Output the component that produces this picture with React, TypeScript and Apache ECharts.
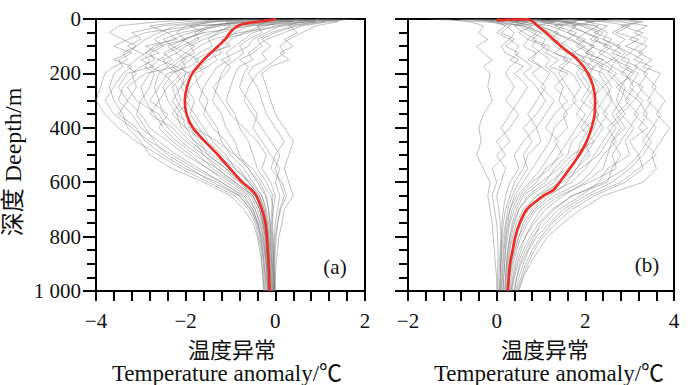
import React, { useEffect, useRef } from "react";
import * as echarts from "echarts";

// Depth levels (m) for the grey profiles
const depths = [0, 10, 25, 50, 75, 100, 125, 150, 175, 200, 250, 300, 350, 400, 450, 500, 550, 600, 650, 700, 750, 800, 850, 900, 950, 1000];

// Panel (a): individual temperature anomaly profiles (°C)
const leftProfiles = [
  [-0.5, -1.5, -2.2, -2.6, -2.9, -3.1, -3.4, -3.3, -3.6, -3.8, -3.9, -4.0, -3.8, -3.5, -3.1, -2.6, -2.1, -1.5, -0.9, -0.6, -0.45, -0.38, -0.32, -0.3, -0.27, -0.25],
  [0.5, -0.4, -1.8, -2.9, -3.3, -3.6, -3.2, -3.5, -3.4, -3.6, -3.7, -3.6, -3.4, -3.3, -3.0, -2.8, -2.3, -1.6, -1.0, -0.7, -0.5, -0.4, -0.35, -0.3, -0.28, -0.26],
  [1.2, 0.2, -1.2, -1.9, -2.3, -2.7, -2.9, -3.1, -3.3, -3.1, -3.4, -3.5, -3.2, -3.0, -2.6, -2.2, -1.7, -1.2, -0.75, -0.5, -0.4, -0.3, -0.25, -0.22, -0.2, -0.18],
  [-1.0, -2.0, -2.8, -2.4, -2.7, -2.5, -2.8, -2.7, -3.0, -3.2, -3.1, -3.3, -3.0, -2.8, -2.4, -2.0, -1.5, -1.0, -0.6, -0.45, -0.35, -0.28, -0.24, -0.2, -0.18, -0.16],
  [1.5, 0.8, -0.5, -1.6, -2.0, -2.2, -2.5, -2.3, -2.6, -2.8, -3.0, -2.9, -2.7, -2.5, -2.2, -1.8, -1.3, -0.9, -0.5, -0.35, -0.28, -0.22, -0.2, -0.18, -0.15, -0.14],
  [0.0, -0.8, -1.5, -1.8, -1.7, -2.0, -2.2, -2.5, -2.4, -2.6, -2.7, -2.6, -2.8, -2.3, -2.0, -1.6, -1.2, -0.8, -0.45, -0.3, -0.25, -0.2, -0.18, -0.15, -0.14, -0.12],
  [1.8, 1.0, 0.2, -0.8, -1.4, -1.7, -1.9, -2.1, -2.0, -2.3, -2.5, -2.4, -2.2, -2.1, -1.8, -1.4, -1.0, -0.7, -0.4, -0.28, -0.2, -0.17, -0.15, -0.13, -0.12, -0.1],
  [-0.3, -1.1, -1.0, -1.3, -1.5, -1.4, -1.7, -1.9, -2.1, -2.0, -2.3, -2.2, -2.0, -1.9, -1.7, -1.5, -1.1, -0.8, -0.5, -0.35, -0.27, -0.22, -0.19, -0.17, -0.15, -0.14],
  [0.8, 0.3, -0.6, -0.9, -1.1, -1.3, -1.2, -1.5, -1.7, -1.6, -1.9, -2.0, -1.8, -1.6, -1.4, -1.1, -0.9, -0.6, -0.35, -0.25, -0.2, -0.16, -0.14, -0.12, -0.1, -0.1],
  [1.3, 0.6, 0.0, -0.5, -0.7, -0.9, -1.1, -1.0, -1.3, -1.4, -1.6, -1.7, -1.5, -1.3, -1.2, -1.0, -0.7, -0.5, -0.3, -0.2, -0.15, -0.12, -0.1, -0.08, -0.07, -0.06],
  [0.3, -0.2, -0.4, -0.3, -0.6, -0.8, -0.7, -0.9, -1.1, -1.2, -1.3, -1.4, -1.2, -1.1, -0.9, -0.8, -0.6, -0.4, -0.22, -0.15, -0.12, -0.1, -0.08, -0.07, -0.05, -0.04],
  [1.6, 1.2, 0.6, 0.2, -0.2, -0.4, -0.6, -0.5, -0.8, -0.9, -1.0, -1.1, -0.9, -0.8, -0.6, -0.5, -0.4, -0.2, -0.05, -0.08, -0.1, -0.08, -0.06, -0.05, -0.04, -0.03],
  [0.9, 1.4, 0.9, 0.6, 0.3, 0.1, 0.2, 0.0, -0.2, -0.4, -0.6, -0.7, -0.5, -0.3, -0.1, 0.1, 0.0, 0.1, 0.2, 0.1, 0.05, 0.0, -0.02, -0.03, -0.02, -0.01],
  [1.1, 0.5, 0.3, 0.5, 0.2, 0.4, 0.1, 0.3, -0.1, -0.3, -0.2, -0.1, 0.0, 0.2, 0.4, 0.3, 0.2, 0.3, 0.4, 0.2, 0.15, 0.08, 0.05, 0.02, 0.0, 0.0],
  [-0.8, -1.6, -2.5, -3.2, -3.0, -3.3, -3.0, -2.8, -2.9, -2.7, -2.8, -3.0, -3.1, -2.9, -2.7, -2.4, -1.9, -1.4, -0.8, -0.55, -0.42, -0.35, -0.3, -0.27, -0.25, -0.24],
  [0.6, -0.1, -0.9, -1.4, -1.8, -2.1, -2.4, -2.6, -2.8, -2.5, -2.2, -2.1, -2.3, -2.0, -1.6, -1.3, -0.9, -0.55, -0.3, -0.22, -0.18, -0.15, -0.13, -0.12, -0.1, -0.09],
  [-0.2, 0.4, -0.3, -0.7, -1.0, -1.1, -1.4, -1.3, -1.5, -1.8, -1.7, -1.5, -1.6, -1.4, -1.1, -0.9, -0.5, -0.3, -0.1, -0.05, -0.08, -0.06, -0.05, -0.05, -0.04, -0.03],
  [0.4, 0.9, 0.4, -0.1, -0.4, -0.3, -0.5, -0.8, -0.6, -0.7, -0.8, -0.6, -0.4, -0.5, -0.3, -0.1, 0.1, 0.0, 0.1, 0.05, 0.0, -0.02, -0.03, -0.03, -0.02, -0.02],
  [-1.5, -2.6, -3.5, -3.7, -3.4, -3.1, -3.3, -3.6, -3.2, -3.4, -3.6, -3.8, -3.6, -3.2, -2.8, -2.3, -1.8, -1.2, -0.7, -0.5, -0.38, -0.32, -0.28, -0.25, -0.23, -0.2],
  [0.2, -0.6, -1.3, -2.1, -2.5, -2.3, -2.0, -2.2, -2.4, -2.2, -2.0, -1.8, -1.9, -1.7, -1.5, -1.2, -0.8, -0.6, -0.35, -0.25, -0.18, -0.14, -0.12, -0.1, -0.09, -0.08],
  [0.7, 0.0, -0.7, -1.2, -1.6, -1.9, -1.8, -2.1, -2.3, -2.1, -2.4, -2.6, -2.5, -2.2, -1.9, -1.5, -1.1, -0.75, -0.45, -0.32, -0.25, -0.2, -0.18, -0.16, -0.14, -0.13],
  [-0.4, -1.3, -2.0, -2.2, -2.0, -2.6, -2.9, -2.6, -2.2, -2.9, -3.3, -3.1, -2.6, -2.4, -2.1, -1.7, -1.4, -0.95, -0.55, -0.4, -0.3, -0.25, -0.22, -0.2, -0.18, -0.17],
  [1.0, 0.1, -0.2, -0.6, -1.2, -1.0, -1.5, -1.8, -1.6, -2.0, -2.1, -1.9, -2.2, -1.8, -1.3, -0.9, -0.6, -0.35, -0.2, -0.15, -0.12, -0.1, -0.1, -0.08, -0.07, -0.06],
  [0.1, -0.5, -1.7, -2.4, -2.2, -2.9, -2.6, -3.0, -2.7, -3.3, -3.5, -3.3, -3.5, -3.1, -2.9, -2.5, -2.0, -1.3, -0.8, -0.55, -0.4, -0.33, -0.28, -0.25, -0.22, -0.2],
  [1.4, 0.7, 0.1, -0.2, -0.5, -0.6, -0.9, -1.2, -1.0, -1.1, -1.4, -1.2, -1.0, -0.7, -0.4, -0.2, -0.3, -0.1, 0.0, -0.05, -0.06, -0.05, -0.04, -0.04, -0.03, -0.03],
  [-0.6, -1.4, -1.9, -1.6, -2.1, -1.8, -2.0, -1.7, -1.9, -2.4, -2.6, -2.8, -2.4, -2.6, -2.3, -1.9, -1.5, -1.1, -0.65, -0.45, -0.33, -0.27, -0.23, -0.2, -0.18, -0.16],
  [0.9, 1.1, 0.5, 0.0, -0.3, -0.1, -0.3, -0.2, -0.5, -0.6, -0.4, -0.3, -0.2, 0.0, 0.2, 0.0, -0.1, 0.15, 0.25, 0.12, 0.05, 0.02, 0.0, -0.01, -0.01, -0.01],
  [-0.1, -0.9, -1.4, -1.7, -2.0, -2.4, -2.2, -2.0, -2.2, -1.9, -2.1, -2.3, -2.1, -2.0, -1.8, -1.6, -1.3, -0.9, -0.5, -0.35, -0.28, -0.23, -0.2, -0.17, -0.15, -0.14],
];

// Panel (b): individual temperature anomaly profiles (°C)
const rightProfiles = [
  [2.5, 3.2, 2.8, 3.3, 3.0, 3.4, 3.2, 3.5, 3.3, 3.7, 3.5, 3.8, 3.6, 3.9, 3.7, 3.5, 3.6, 3.3, 2.4, 1.9, 1.5, 1.15, 0.95, 0.75, 0.6, 0.5],
  [1.2, 2.4, 3.0, 2.7, 3.2, 2.9, 3.3, 3.1, 3.5, 3.3, 3.6, 3.4, 3.7, 3.5, 3.3, 3.6, 3.2, 2.8, 2.1, 1.6, 1.25, 1.0, 0.8, 0.65, 0.55, 0.45],
  [0.3, 1.6, 2.2, 2.5, 2.4, 2.8, 2.6, 3.0, 2.9, 3.2, 3.0, 3.3, 3.1, 3.4, 3.0, 3.2, 2.9, 2.4, 1.7, 1.3, 1.0, 0.85, 0.7, 0.55, 0.45, 0.4],
  [-0.5, 0.8, 1.6, 2.0, 2.3, 2.1, 2.5, 2.7, 2.6, 2.9, 3.1, 2.9, 3.2, 3.0, 2.8, 2.6, 2.7, 2.1, 1.4, 1.0, 0.8, 0.65, 0.55, 0.45, 0.38, 0.33],
  [0.0, 0.5, 1.2, 1.6, 1.9, 2.2, 2.0, 2.4, 2.6, 2.5, 2.8, 2.7, 2.9, 2.6, 2.4, 2.2, 2.0, 1.7, 1.1, 0.8, 0.6, 0.5, 0.42, 0.35, 0.3, 0.28],
  [1.8, 1.0, 1.5, 1.3, 1.7, 1.9, 2.2, 2.1, 2.4, 2.3, 2.5, 2.6, 2.4, 2.7, 2.5, 2.3, 1.9, 1.5, 0.9, 0.65, 0.5, 0.42, 0.36, 0.3, 0.27, 0.25],
  [-1.5, -0.3, 0.6, 1.0, 1.3, 1.6, 1.8, 2.0, 1.8, 2.1, 2.3, 2.2, 2.5, 2.3, 2.1, 1.9, 1.6, 1.2, 0.75, 0.5, 0.4, 0.33, 0.28, 0.24, 0.22, 0.2],
  [0.6, 1.3, 0.9, 1.2, 1.4, 1.3, 1.6, 1.5, 1.9, 1.8, 2.0, 2.3, 2.1, 1.9, 2.2, 1.7, 1.4, 1.0, 0.6, 0.45, 0.35, 0.3, 0.25, 0.22, 0.2, 0.18],
  [-0.8, 0.2, 0.5, 0.8, 1.1, 1.0, 1.3, 1.6, 1.4, 1.7, 1.9, 1.7, 2.0, 1.8, 1.6, 1.4, 1.2, 0.8, 0.5, 0.35, 0.28, 0.22, 0.2, 0.18, 0.16, 0.15],
  [0.2, 0.7, 0.4, 0.6, 0.9, 0.8, 1.0, 1.2, 1.1, 1.3, 1.5, 1.4, 1.6, 1.3, 1.2, 1.0, 0.8, 0.6, 0.4, 0.3, 0.22, 0.18, 0.15, 0.13, 0.12, 0.1],
  [-1.2, -0.6, -0.3, -0.4, -0.2, -0.45, -0.3, -0.1, -0.3, -0.15, -0.2, -0.1, -0.3, -0.4, -0.35, -0.45, -0.3, -0.15, -0.2, -0.15, -0.1, -0.08, -0.05, -0.03, 0.0, 0.0],
  [-0.3, 0.1, 0.3, 0.1, 0.4, 0.2, 0.5, 0.3, 0.6, 0.4, 0.7, 0.5, 0.3, 0.1, 0.3, 0.0, 0.2, 0.1, 0.0, 0.05, 0.08, 0.1, 0.08, 0.06, 0.05, 0.05],
  [0.9, 0.4, 0.8, 0.5, 0.7, 0.6, 0.9, 0.7, 1.0, 0.8, 1.1, 0.9, 0.7, 0.9, 0.6, 0.4, 0.5, 0.3, 0.2, 0.15, 0.12, 0.1, 0.1, 0.09, 0.08, 0.07],
  [3.0, 2.0, 2.5, 2.2, 2.6, 2.4, 2.8, 2.6, 3.0, 2.8, 3.3, 3.1, 2.8, 3.1, 2.9, 3.0, 2.5, 2.3, 1.9, 1.4, 1.1, 0.8, 0.65, 0.52, 0.45, 0.4],
  [0.0, 1.1, 1.8, 1.6, 2.0, 1.8, 2.1, 1.9, 2.2, 2.0, 2.2, 2.0, 1.8, 2.1, 1.9, 1.8, 1.5, 1.3, 0.9, 0.6, 0.45, 0.36, 0.3, 0.26, 0.24, 0.22],
  [2.2, 1.5, 1.9, 2.3, 2.1, 2.6, 2.4, 2.2, 2.5, 2.7, 2.4, 2.6, 2.8, 2.5, 2.7, 2.4, 2.2, 1.9, 1.3, 0.9, 0.7, 0.55, 0.45, 0.38, 0.33, 0.3],
  [-0.6, 0.3, 0.9, 1.4, 1.2, 1.5, 1.3, 1.7, 1.5, 1.4, 1.6, 1.8, 1.5, 1.6, 1.3, 1.5, 1.1, 0.9, 0.55, 0.4, 0.3, 0.25, 0.2, 0.18, 0.16, 0.14],
  [0.4, 0.0, 0.2, 0.4, 0.3, 0.5, 0.4, 0.6, 0.8, 0.6, 0.9, 1.1, 0.9, 0.6, 0.8, 0.6, 0.7, 0.5, 0.35, 0.25, 0.2, 0.15, 0.12, 0.1, 0.1, 0.08],
  [1.5, 2.8, 3.4, 3.1, 3.4, 3.2, 3.0, 3.3, 3.1, 3.4, 3.2, 3.5, 3.3, 3.6, 3.4, 3.2, 3.3, 2.9, 2.2, 1.7, 1.35, 1.05, 0.85, 0.7, 0.58, 0.48],
  [0.8, 1.8, 1.3, 1.8, 1.6, 2.0, 1.7, 2.2, 2.0, 2.4, 2.6, 2.4, 2.2, 2.4, 2.2, 2.0, 1.8, 1.6, 1.2, 0.85, 0.65, 0.5, 0.4, 0.33, 0.29, 0.26],
  [0.5, 1.4, 2.0, 2.4, 2.2, 2.5, 2.3, 2.6, 2.3, 2.6, 2.9, 2.8, 2.6, 2.8, 2.6, 2.5, 2.4, 2.0, 1.5, 1.1, 0.85, 0.65, 0.5, 0.42, 0.36, 0.32],
  [-0.2, 0.6, 1.0, 1.3, 1.6, 1.4, 1.7, 1.9, 2.1, 1.9, 2.1, 1.9, 2.3, 2.0, 1.7, 1.6, 1.3, 1.1, 0.7, 0.5, 0.38, 0.3, 0.25, 0.22, 0.2, 0.19],
  [1.0, 0.3, 0.7, 1.0, 0.8, 1.2, 1.1, 1.4, 1.2, 1.6, 1.3, 1.6, 1.3, 1.1, 1.4, 1.2, 1.0, 0.75, 0.45, 0.3, 0.25, 0.2, 0.17, 0.15, 0.13, 0.12],
  [2.8, 3.3, 2.9, 2.6, 2.9, 2.7, 3.0, 2.8, 3.2, 3.0, 2.8, 3.2, 3.4, 3.2, 3.5, 3.3, 3.0, 2.6, 2.0, 1.5, 1.2, 0.9, 0.72, 0.6, 0.5, 0.43],
  [-0.4, -0.1, 0.2, 0.0, 0.3, 0.1, 0.2, 0.5, 0.3, 0.2, 0.4, 0.2, 0.5, 0.3, 0.0, 0.2, -0.1, 0.0, -0.1, -0.05, 0.0, 0.02, 0.03, 0.03, 0.02, 0.02],
  [0.7, 1.5, 2.3, 2.0, 2.4, 2.7, 2.9, 2.7, 2.8, 3.1, 2.7, 3.0, 2.7, 2.9, 2.6, 2.8, 2.6, 2.5, 1.7, 1.25, 0.95, 0.75, 0.6, 0.48, 0.4, 0.35],
  [-0.9, 0.0, 0.6, 0.9, 0.7, 1.1, 0.9, 0.8, 1.0, 1.2, 1.0, 1.3, 1.1, 0.9, 1.0, 0.7, 0.6, 0.4, 0.3, 0.2, 0.15, 0.12, 0.1, 0.09, 0.08, 0.07],
  [1.6, 2.2, 1.7, 2.0, 1.8, 2.2, 2.0, 2.4, 2.2, 2.1, 2.4, 2.1, 2.3, 2.2, 2.0, 2.1, 1.8, 1.4, 1.0, 0.72, 0.55, 0.45, 0.38, 0.32, 0.28, 0.26],
];

// Mean profiles (red)
const leftMeanDepth = [0, 5, 10, 15, 22, 35, 50, 75, 100, 150, 200, 250, 300, 350, 400, 450, 500, 550, 600, 625, 650, 700, 750, 800, 900, 1000];
const leftMeanX = [0.02, -0.15, -0.38, -0.6, -0.79, -0.92, -1.01, -1.12, -1.28, -1.6, -1.85, -1.97, -2.02, -1.98, -1.84, -1.57, -1.28, -1.01, -0.74, -0.55, -0.42, -0.3, -0.22, -0.19, -0.15, -0.13];
const rightMeanDepth = [4, 2, 1, 10, 25, 50, 100, 150, 200, 250, 300, 350, 400, 450, 500, 550, 600, 630, 650, 670, 700, 750, 800, 850, 900, 1000];
const rightMeanX = [0, 0.35, 0.7, 0.82, 0.92, 1.11, 1.45, 1.83, 2.06, 2.18, 2.22, 2.21, 2.14, 2.03, 1.86, 1.65, 1.42, 1.27, 1.05, 0.89, 0.68, 0.52, 0.42, 0.36, 0.3, 0.25];

// Axes
const leftXRange = [-4, 2];
const rightXRange = [-2, 4];
const depthRange = [0, 1000];

const SERIF = "'Liberation Serif', 'Times New Roman', serif";
const MIXED = "'Liberation Serif', 'Noto Sans CJK SC', serif";

function xLabel(v: number) {
  const r = Math.round(v);
  if (Math.abs(v - r) > 1e-6) return "";
  return r < 0 ? "\u2212" + Math.abs(r) : String(r);
}

function makeX(grid: number, range: number[]) {
  return {
    gridIndex: grid,
    type: "value",
    min: range[0],
    max: range[1],
    interval: 2,
    position: "bottom",
    axisLine: { show: true, onZero: false, lineStyle: { color: "#000", width: 2 } },
    axisTick: { show: true, inside: false, length: 10, lineStyle: { color: "#000", width: 2 } },
    minorTick: { show: true, splitNumber: 5, length: 10, lineStyle: { color: "#000", width: 2 } },
    axisLabel: { formatter: xLabel, fontFamily: SERIF, fontSize: 21, color: "#111", margin: 19 },
    splitLine: { show: false },
    minorSplitLine: { show: false },
  };
}

function makeY(grid: number, showLabels: boolean) {
  return {
    gridIndex: grid,
    type: "value",
    inverse: true,
    min: depthRange[0],
    max: depthRange[1],
    interval: 200,
    position: "left",
    axisLine: { show: true, onZero: false, lineStyle: { color: "#000", width: 2 } },
    axisTick: { show: true, inside: false, length: 13, lineStyle: { color: "#000", width: 2 } },
    minorTick: { show: true, splitNumber: 4, length: 9, lineStyle: { color: "#000", width: 2 } },
    axisLabel: {
      show: showLabels,
      formatter: (v: number) => (v === 1000 ? "1 000" : String(v)),
      fontFamily: SERIF,
      fontSize: 21,
      color: "#111",
      margin: 15,
    },
    splitLine: { show: false },
    minorSplitLine: { show: false },
  };
}

function greySeries(profiles: number[][], idx: number) {
  return profiles.map((p) => ({
    type: "line",
    xAxisIndex: idx,
    yAxisIndex: idx,
    data: p.map((x, i) => [x, depths[i]]),
    symbol: "none",
    showSymbol: false,
    silent: true,
    z: 1,
    lineStyle: { color: "rgba(115,115,115,0.45)", width: 1 },
  }));
}

function redSeries(xs: number[], ds: number[], idx: number) {
  return {
    type: "line",
    xAxisIndex: idx,
    yAxisIndex: idx,
    data: xs.map((x, i) => [x, ds[i]]),
    symbol: "none",
    showSymbol: false,
    smooth: 0.3,
    silent: true,
    z: 5,
    lineStyle: { color: "#ee2b24", width: 2.6 },
  };
}

export default function App() {
  const ref = useRef<HTMLDivElement>(null);
  useEffect(() => {
    if (!ref.current) return;
    const chart = echarts.init(ref.current, undefined, { renderer: "svg" });
    chart.setOption({
      animation: false,
      backgroundColor: "#fff",
      grid: [
        { left: 96, top: 19, width: 269, height: 272, show: true, borderColor: "#000", borderWidth: 2, backgroundColor: "transparent" },
        { left: 408, top: 19, width: 266, height: 272, show: true, borderColor: "#000", borderWidth: 2, backgroundColor: "transparent" },
      ],
      xAxis: [makeX(0, leftXRange), makeX(1, rightXRange)],
      yAxis: [makeY(0, true), makeY(1, false)],
      series: [
        ...greySeries(leftProfiles, 0),
        ...greySeries(rightProfiles, 1),
        redSeries(leftMeanX, leftMeanDepth, 0),
        redSeries(rightMeanX, rightMeanDepth, 1),
      ],
      graphic: [
        { type: "text", x: 335, y: 267, style: { text: "(a)", font: `21px ${SERIF}`, fill: "#111", align: "center", verticalAlign: "middle" } },
        { type: "text", x: 647, y: 265, style: { text: "(b)", font: `21px ${SERIF}`, fill: "#111", align: "center", verticalAlign: "middle" } },
        { type: "text", x: 232, y: 348, style: { text: "温度异常", font: "22px 'Noto Sans CJK SC'", fill: "#111", align: "center", verticalAlign: "middle" } },
        { type: "text", x: 545, y: 348, style: { text: "温度异常", font: "22px 'Noto Sans CJK SC'", fill: "#111", align: "center", verticalAlign: "middle" } },
        { type: "text", x: 227, y: 373.5, style: { text: "Temperature anomaly/℃", font: `23px ${MIXED}`, fill: "#111", align: "center", verticalAlign: "middle" } },
        { type: "text", x: 549, y: 373.5, style: { text: "Temperature anomaly/℃", font: `23px ${MIXED}`, fill: "#111", align: "center", verticalAlign: "middle" } },
        { type: "text", x: 13, y: 162, rotation: Math.PI / 2, style: { text: "深度 Deepth/m", font: `24px ${MIXED}`, fill: "#111", align: "center", verticalAlign: "middle" } },
      ],
    });
    return () => chart.dispose();
  }, []);
  return <div ref={ref} style={{ position: "fixed", left: 0, top: 0, width: 700, height: 385 }} />;
}
